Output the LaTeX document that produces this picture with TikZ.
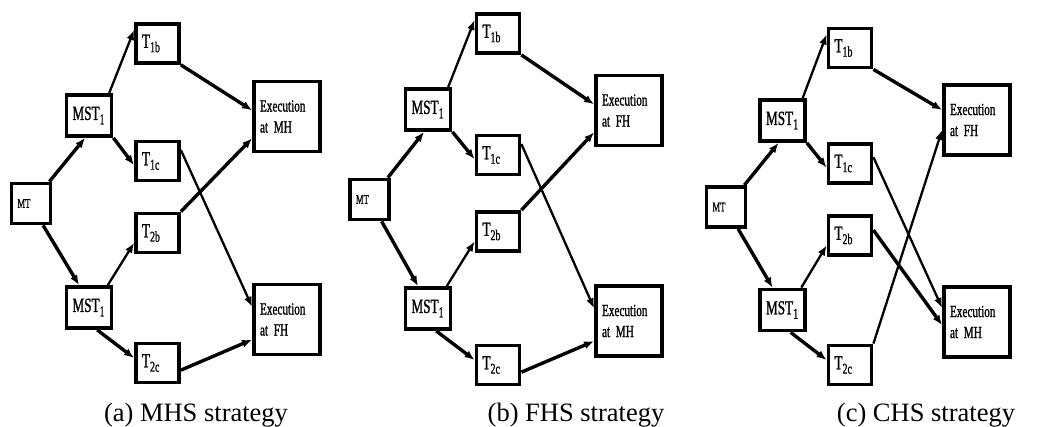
\documentclass[tikz,border=0pt]{standalone}
\usepackage{fontspec}
\usepackage{graphicx}
\setmainfont{Liberation Serif}
\newfontfamily\boxfont[FakeStretch=0.66,FakeBold=1]{Liberation Serif}
\newcommand\tsub[1]{\raisebox{-0.22em}{\scalebox{0.75}{#1}}}
\usetikzlibrary{arrows.meta}
\tikzset{box/.style={draw,line width=3.8pt,inner xsep=6pt,inner ysep=0pt,align=left},
  mtbox/.style={box,text width=27pt,minimum height=40pt,font=\boxfont\fontsize{13}{15}\selectfont},
  mstbox/.style={box,text width=33pt,minimum height=41pt,font=\boxfont\fontsize{20}{22}\selectfont},
  tbox/.style={box,text width=31pt,minimum height=39pt,font=\boxfont\fontsize{20}{22}\selectfont},
  exbox/.style={box,text width=54pt,minimum height=70pt,font=\boxfont\fontsize{17}{21}\selectfont},
  link/.style={-{Latex[length=10pt,width=8pt]},line width=3.4pt},
  thinlink/.style={link,line width=2.3pt},
  caption/.style={anchor=base,font=\fontsize{26.5}{30}\selectfont}}

\begin{document}
\begin{tikzpicture}[x=1pt,y=-1pt]
\useasboundingbox (0,0) rectangle (1050,427);

% (a)
\node[mtbox] (mta) at (31,203.5) {MT\\[4pt]};
\node[mstbox] (sta) at (89,115.5) {MST\tsub{1}};
\node[mstbox] (sba) at (89,307.5) {MST\tsub{1}};
\node[tbox] (t1ba) at (157.5,43.5) {T\tsub{1b}};
\node[tbox] (t1ca) at (157.5,161) {T\tsub{1c}};
\node[tbox] (t2ba) at (157.5,233) {T\tsub{2b}};
\node[tbox] (t2ca) at (157.5,363) {T\tsub{2c}};
\node[exbox] (exa1) at (287,116.5) {Execution\\at MH};
\node[exbox] (exa2) at (287,319.5) {Execution\\at FH};
\node[caption] (capa) at (196,422) {(a) MHS strategy};

% (b)
\node[mtbox] (mtb) at (369.5,199.5) {MT\\[4pt]};
\node[mstbox] (stb) at (428,109.5) {MST\tsub{1}};
\node[mstbox] (sbb) at (428,308.5) {MST\tsub{1}};
\node[tbox] (t1bb) at (498,33.5) {T\tsub{1b}};
\node[tbox] (t1cb) at (498,155) {T\tsub{1c}};
\node[tbox] (t2bb) at (498,231.5) {T\tsub{2b}};
\node[tbox] (t2cb) at (498,365) {T\tsub{2c}};
\node[exbox] (exb1) at (629,110.5) {Execution\\at FH};
\node[exbox] (exb2) at (629,321) {Execution\\at MH};
\node[caption] (capb) at (576,422) {(b) FHS strategy};

% (c)
\node[mtbox] (mtc) at (726,207) {MT\\[4pt]};
\node[mstbox] (stc) at (782.5,120.5) {MST\tsub{1}};
\node[mstbox] (sbc) at (782.5,310) {MST\tsub{1}};
\node[tbox] (t1bc) at (850,48) {T\tsub{1b}};
\node[tbox] (t1cc) at (850,163.5) {T\tsub{1c}};
\node[tbox] (t2bc) at (850,235.5) {T\tsub{2b}};
\node[tbox] (t2cc) at (850,365) {T\tsub{2c}};
\node[exbox] (exc1) at (977,120) {Execution\\at FH};
\node[exbox] (exc2) at (977,322) {Execution\\at MH};
\node[caption] (capc) at (926,422) {(c) CHS strategy};

% splitting, same in all three
\foreach \p in {a,b,c} {
  \draw[link] (mt\p.50) -- (st\p.260);
  \draw[link] (mt\p.-61) -- (sb\p.114);
  \draw[thinlink] (st\p.48) -- (t1b\p.150);
  \draw[link] (st\p.south east) -- (t1c\p.190);
  \draw[thinlink] (sb\p.50) -- (t2b\p.203);
  \draw[link] (sb\p.-70) -- (t2c\p.168);
}
\foreach \p in {a,b} {
  \draw[link] (t1b\p.south east) -- (ex\p1.170);
  \draw[link] (t2b\p.north east) -- (ex\p1.212);
  \draw[thinlink] (t1c\p.25) -- (ex\p2.160);
  \draw[link] (t2c\p.-17) -- (ex\p2.210);
}
\draw[link] (t1bc.south east) -- (exc1.164);
\draw[thinlink] (t2cc.north east) -- (exc1.196);
\draw[thinlink] (t1cc.15) -- (exc2.158);
\draw[link] (t2bc.13) -- (exc2.185);
\end{tikzpicture}
\end{document}
